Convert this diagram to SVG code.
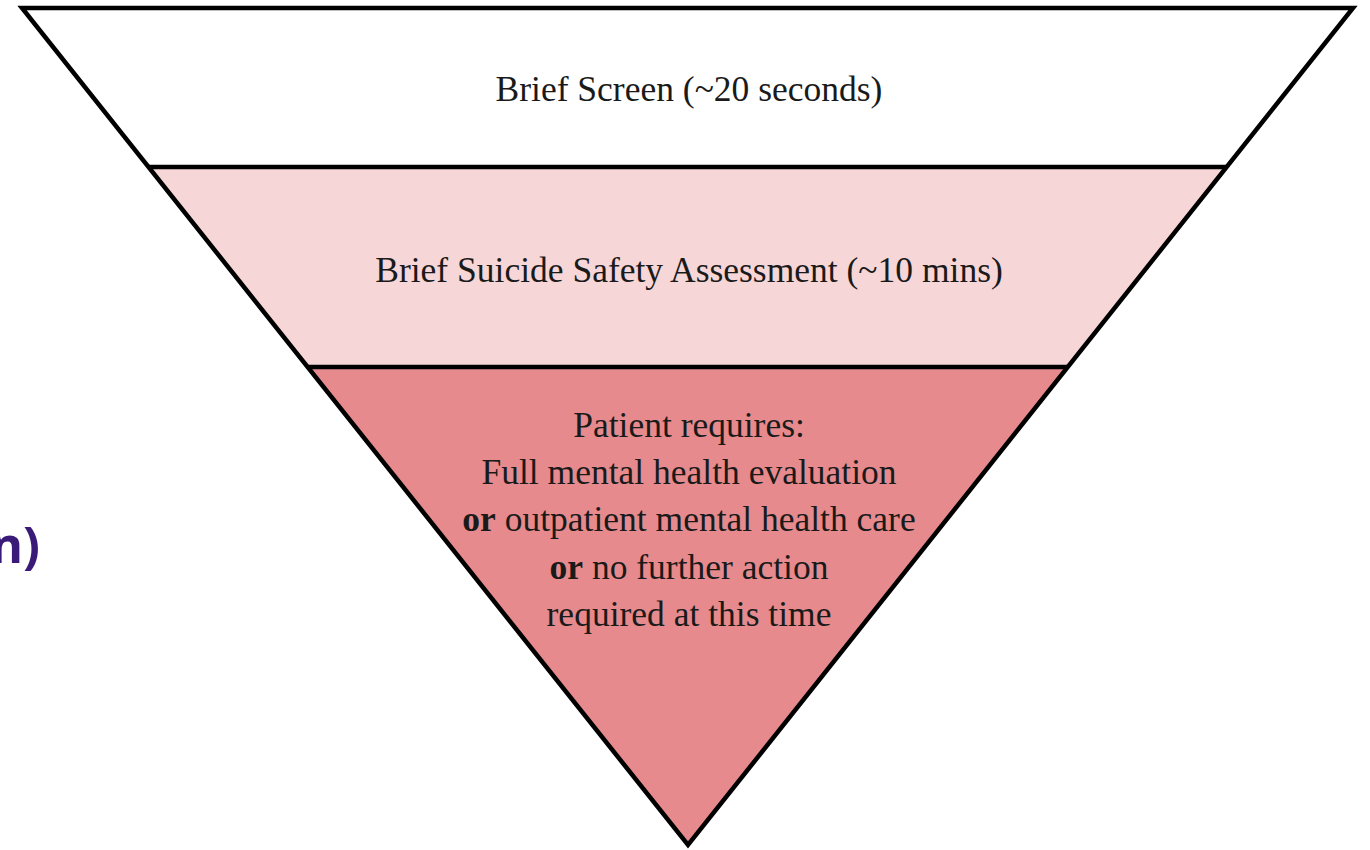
<svg xmlns="http://www.w3.org/2000/svg" width="1370" height="850" viewBox="0 0 1370 850">
<style>
.band{stroke:none}
.edge{fill:none;stroke:#000;stroke-width:4.5;stroke-linejoin:miter}
.t{font-family:"Liberation Serif","Times New Roman",serif;font-size:35.5px;fill:#1a1a1a;text-anchor:middle}
.b{font-weight:bold}
.side{font-family:"Open Sans","DejaVu Sans",sans-serif;font-weight:bold;font-size:50px;fill:#3a1a78}
</style>
<rect width="1370" height="850" fill="#fff"/>
<g id="band-top">
<polygon class="band" fill="#ffffff" points="22,8 1353,8 1227,167 149,167"/>
<text class="t" x="689" y="101">Brief Screen (~20 seconds)</text>
</g>
<g id="band-middle">
<polygon class="band" fill="#f6d6d7" points="149,167 1227,167 1068,367 308,367"/>
<text class="t" x="689" y="282">Brief Suicide Safety Assessment (~10 mins)</text>
</g>
<g id="band-bottom">
<polygon class="band" fill="#e68a8d" points="308,367 1068,367 688,845"/>
<text class="t" x="689" y="437">Patient requires:</text>
<text class="t" x="689" y="484">Full mental health evaluation</text>
<text class="t" x="689" y="531"><tspan class="b">or</tspan> outpatient mental health care</text>
<text class="t" x="689" y="579"><tspan class="b">or</tspan> no further action</text>
<text class="t" x="689" y="626">required at this time</text>
</g>
<g id="connectors">
<polygon class="edge" points="22,8 1353,8 688,845"/>
<line class="edge" x1="149" y1="167" x2="1227" y2="167"/>
<line class="edge" x1="308" y1="367" x2="1068" y2="367"/>
</g>
<text class="side" x="40" y="563" text-anchor="end">n)</text>
</svg>
